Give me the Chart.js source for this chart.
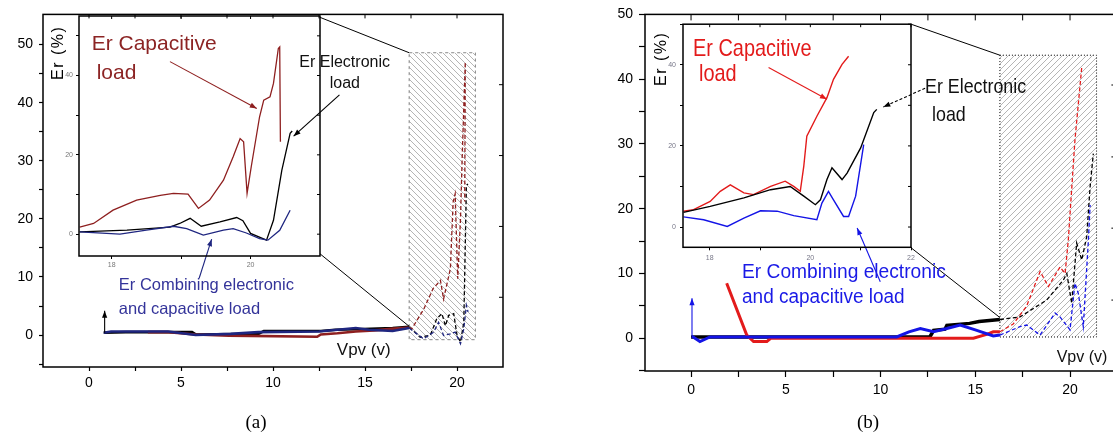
<!DOCTYPE html>
<html lang="en">
<head>
<meta charset="UTF-8">
<title>Er versus Vpv</title>
<script src="https://cdn.jsdelivr.net/npm/chart.js@4.4.1/dist/chart.umd.min.js"></script>
<style>
  html, body { margin: 0; padding: 0; background: #fff; overflow: hidden; }
  #page { position: relative; width: 1113px; height: 439px; overflow: hidden;
          font-family: 'Liberation Sans', Arial, sans-serif; }
  .box { position: absolute; display: block; }
  .lbl { position: absolute; white-space: nowrap; line-height: 1; transform-origin: 0 0; }
</style>
</head>
<body>
<div id="page">
  <canvas id="mainA" class="box" width="560" height="439" style="left:0;top:0"></canvas>
  <div class="box" style="left:560px;top:0;width:553px;height:439px;overflow:hidden">
    <canvas id="mainB" width="580" height="439" style="display:block"></canvas>
  </div>
  <canvas id="insetA" class="box" width="314" height="282" style="left:46px;top:8px"></canvas>
  <canvas id="insetB" class="box" width="285" height="274" style="left:650px;top:16px"></canvas>

  <!-- panel (a) texts -->
  <div class="lbl" style="left:50px;top:80px;font-size:16px;letter-spacing:1.5px;transform:rotate(-90deg)">Er (%)</div>
  <div class="lbl" style="left:91.7px;top:32.2px;font-size:21px;color:#8c2424">Er Capacitive</div>
  <div class="lbl" style="left:96.7px;top:60.5px;font-size:21px;color:#8c2424">load</div>
  <div class="lbl" style="left:299.3px;top:54.2px;font-size:16px;color:#111">Er Electronic</div>
  <div class="lbl" style="left:329.7px;top:75.1px;font-size:16px;color:#111">load</div>
  <div class="lbl" style="left:118.8px;top:275.7px;font-size:16.5px;color:#34349a">Er Combining electronic</div>
  <div class="lbl" style="left:118.8px;top:300px;font-size:16.5px;color:#34349a">and capacitive load</div>
  <div class="lbl" style="left:336.8px;top:341.3px;font-size:17px;color:#111">Vpv (v)</div>
  <div class="lbl" style="left:256px;top:412px;font-size:19px;font-family:'Liberation Serif',serif;transform:translateX(-50%)">(a)</div>

  <!-- panel (b) texts -->
  <div class="lbl" style="left:653px;top:86px;font-size:16px;letter-spacing:1.5px;transform:rotate(-90deg)">Er (%)</div>
  <div class="lbl" style="left:693.3px;top:36.4px;font-size:24px;color:#e31b1b;transform:scaleX(0.83)">Er Capacitive</div>
  <div class="lbl" style="left:699.3px;top:61.4px;font-size:24px;color:#e31b1b;transform:scaleX(0.83)">load</div>
  <div class="lbl" style="left:924.8px;top:75.2px;font-size:21px;color:#111;transform:scaleX(0.85)">Er Electronic</div>
  <div class="lbl" style="left:932px;top:103px;font-size:21px;color:#111;transform:scaleX(0.85)">load</div>
  <div class="lbl" style="left:741.7px;top:261.4px;font-size:20px;color:#1a1ae6;transform:scaleX(0.96)">Er Combining electronic</div>
  <div class="lbl" style="left:741.7px;top:286.4px;font-size:20px;color:#1a1ae6;transform:scaleX(0.95)">and capacitive load</div>
  <div class="lbl" style="left:1056.7px;top:348.5px;font-size:16px;color:#111">Vpv (v)</div>
  <div class="lbl" style="left:868px;top:412px;font-size:19px;font-family:'Liberation Serif',serif;transform:translateX(-50%)">(b)</div>
</div>

<script>
// ---------- panel (a): main plot, [Vpv, Er] ----------
const aCap = [[3.2,0.5],[4.3,0.5],[5.8,0.1],[7.6,-0.1],[12.4,-0.3],[12.6,0.1],[13.5,0.3],[14.5,0.6],[15.5,0.8],[16.6,1.1],[17.4,1.3],
  [17.55,1.1],[18.2,4.5],[18.7,8.0],[19.1,9.4],[19.27,6.2],[19.64,11.4],[19.79,22.9],[19.9,24.3],[20.04,9.7],[20.19,20],[20.28,30.4],[20.45,47],[20.42,23]];
const aElec = [[0.8,0.4],[2.0,0.5],[3.1,0.5],[5.6,0.5],[5.8,0.1],[9.2,0.2],[9.5,0.7],[12.6,0.7],[13.4,0.9],[14.5,1.0],[16.5,1.2],[17.4,1.4],
  [18.0,-0.4],[18.55,0],[18.9,2.8],[19.18,3.7],[19.37,1.6],[19.55,3.4],[19.82,3.7],[20.0,0],[20.19,-1.2],[20.37,2.2],[20.51,25.8],[20.6,26]];
const aComb = [[0.8,0.4],[1.2,0.6],[3.0,0.6],[4.3,0.6],[5.8,0.0],[7.7,0.2],[9.2,0.5],[12.5,0.6],[13.5,0.9],[14.5,1.2],[15.2,0.9],[16.5,0.7],[17.4,1.2],
  [18.18,-0.65],[18.73,0.5],[19.0,2.2],[19.27,-0.07],[19.64,0.2],[19.9,0.5],[20.19,-1.5],[20.37,1.07],[20.51,5.1],[20.6,4]];
// ---------- panel (a): inset (zoom of hatched area) ----------
const aInCap = [[17.54,1.8],[17.74,2.7],[18.02,6.05],[18.36,8.6],[18.7,9.8],[18.89,10.3],[19.1,10.1],[19.25,6.5],[19.41,8.6],[19.61,13.6],[19.75,19.5],
  [19.85,24.1],[19.9,23.3],[19.95,10.3],[20.01,17.0],[20.13,29.6],[20.19,33.8],[20.28,34.6],[20.33,38.0],[20.4,46.8],[20.42,47.2],[20.43,23.3]];
const aInElec = [[17.54,0.6],[18.22,1.0],[18.84,1.8],[18.98,2.7],[19.13,4.0],[19.29,2.0],[19.56,3.1],[19.8,4.2],[19.89,3.4],[20.0,0.2],[20.23,-1.5],
  [20.33,3.5],[20.45,16.1],[20.57,25.4],[20.6,26]];
const aInComb = [[17.54,0.6],[18.12,0],[18.5,1.0],[18.89,2.0],[19.08,1.4],[19.32,-0.25],[19.61,1.0],[19.75,1.4],[19.94,0.3],[20.13,-1.1],[20.25,-1.5],
  [20.42,1.0],[20.57,6.05]];

// ---------- panel (b): main plot ----------
const bCap = [[1.88,8.5],[2.94,0.5],[3.3,-0.5],[4.0,-0.5],[4.2,0],[6.8,0],[9.45,0],[14.9,0],[15.6,0.6],[15.95,1.0],[16.3,1.0],
  [17.0,2.2],[17.7,4.9],[18.42,10.3],[18.86,8.0],[19.47,11.0],[19.74,10.0],[19.91,15.2],[20.26,30.6],[20.62,41.9]];
const bElec = [[0,0.2],[12.6,0.2],[12.8,1.2],[13.4,1.4],[13.5,2.0],[14.7,2.3],[15.2,2.6],[16.3,2.9],
  [17.36,3.3],[18.77,5.9],[19.65,9.0],[19.83,10.0],[20.09,5.4],[20.35,14.7],[20.62,12.1],[20.88,15.7],[21.06,23.4],[21.23,28.5]];
const bComb = [[0.05,0.3],[0.47,-0.5],[1.0,0.2],[10.85,0.2],[11.5,1.0],[12.1,1.5],[12.8,1.0],[13.5,1.5],[14.2,2.05],[15.0,1.3],[15.95,0.35],[16.3,0.5],
  [17.36,1.8],[17.71,2.05],[18.42,0.5],[19.21,3.9],[19.47,3.3],[20.0,1.3],[20.26,8.5],[20.44,6.9],[20.7,1.8],[20.97,15.2],[21.06,20.6]];
// ---------- panel (b): inset ----------
const bInCap = [[17.48,3.9],[17.68,4.3],[18.01,6.3],[18.21,8.8],[18.41,10.4],[18.68,8.4],[18.87,8.0],[19.21,10.0],[19.5,11.3],[19.67,10.0],[19.8,8.8],
  [19.87,15.0],[19.93,22.4],[20.13,27.3],[20.33,31.9],[20.46,36.4],[20.63,40.1],[20.76,42.1]];
const bInElec = [[17.48,3.6],[18.01,5.1],[18.68,7.2],[19.21,9.2],[19.6,10.0],[19.87,7.6],[20.1,5.5],[20.2,6.7],[20.33,11.7],[20.43,14.6],[20.63,11.7],
  [20.73,13.3],[21.0,19.5],[21.26,28.2],[21.32,29.0]];
const bInComb = [[17.48,2.5],[17.88,1.8],[18.35,0.15],[18.68,2.2],[19.01,4.0],[19.34,3.9],[19.67,2.8],[20.13,1.8],[20.23,5.9],[20.36,8.8],[20.46,6.7],
  [20.66,2.6],[20.76,2.6],[20.9,7.6],[21.06,20.3]];

// axis ticks and labels
const aXTicks = [0,2.5,5,7.5,10,12.5,15,17.5,20];
const bXTicks = [0,2.5,5,7.5,10,12.5,15,17.5,20];
const mainXLabels = [0,5,10,15,20];
const mainYTicks = [-5,0,5,10,15,20,25,30,35,40,45,50];
const mainYLabels = [0,10,20,30,40,50];
const aRightTicks = [6.5,18.7,30.9,43.1];
const bRightTicks = [5.9,17.0,28.0,39.1];
const aInXTicks = [18,19,20];
const aInXLabels = [18,20];
const bInXTicks = [18,19,20,21,22];
const bInXLabels = [18,20,22];
const inYTicks = [0,10,20,30,40,50];
const inYLabels = [0,20,40];

// hatched zoom windows, connector lines and arrows (data coordinates)
const aHatch = {x0: 17.4, x1: 21.0, y0: -0.8, y1: 48.6};
const bHatch = {x0: 16.3, x1: 21.4, y0: 0.2, y1: 43.7};
const aLinks = [[[12.55,54.7],[17.4,48.6]], [[12.55,14.0],[17.4,1.5]]];
const bLinks = [[[11.6,48.5],[16.3,43.7]], [[11.6,14.0],[16.3,3.2]]];
const aMainArrow = [[0.85,0.4],[0.85,4.2]];
const bMainArrow = [[0.05,0.3],[0.05,6.2]];
const aInArrows = {cap: [[18.84,43.5],[20.09,31.7]], elec: [[21.28,35.1],[20.62,24.7]], comb: [[19.26,-11.1],[19.44,-1.26]]};
const bInArrows = {cap: [[19.17,39.3],[20.33,31.5]], elec: [[22.28,34.2],[21.45,29.6]], comb: [[21.39,-13.5],[20.93,-0.25]]};

const DARKRED = '#8e1f1f', NAVY = '#1f2680', RED = '#e31b1b', BLUE = '#1414e6', BLACK = '#000';

function hatchPattern(ctx, dir, s) {
  const c = document.createElement('canvas');
  c.width = c.height = s;
  const g = c.getContext('2d');
  g.strokeStyle = '#a2a2a2';
  g.lineWidth = 0.8;
  g.beginPath();
  for (let k = -1; k <= 1; k++) {
    if (dir === 'down') { g.moveTo(k * s, 0); g.lineTo(k * s + s, s); }
    else { g.moveTo(k * s, s); g.lineTo(k * s + s, 0); }
  }
  g.stroke();
  return ctx.createPattern(c, 'repeat');
}

// frame, inward ticks, hatched window and arrow heads
const deco = {
  id: 'deco',
  beforeDatasetsDraw(chart, args, o) {
    if (!o.hatch) return;
    const {ctx, scales: {x, y}} = chart;
    const h = o.hatch;
    const l = x.getPixelForValue(h.x0), r = x.getPixelForValue(h.x1);
    const t = y.getPixelForValue(h.y1), b = y.getPixelForValue(h.y0);
    ctx.save();
    ctx.fillStyle = hatchPattern(ctx, o.hatchDir, 6);
    ctx.fillRect(l, t, r - l, b - t);
    ctx.setLineDash(o.hatchDash);
    ctx.strokeStyle = o.hatchEdge;
    ctx.lineWidth = 1;
    ctx.strokeRect(l, t, r - l, b - t);
    ctx.restore();
  },
  afterDatasetsDraw(chart, args, o) {
    const {ctx, chartArea: a, scales: {x, y}} = chart;
    ctx.save();
    chart.data.datasets.forEach((ds, i) => {
      if (!ds.arrow) return;
      const pts = chart.getDatasetMeta(i).data;
      const p = pts[pts.length - 1], q = pts[pts.length - 2];
      const ang = Math.atan2(p.y - q.y, p.x - q.x);
      const L = 7, W = 2.6;
      ctx.fillStyle = ds.borderColor;
      ctx.beginPath();
      ctx.moveTo(p.x, p.y);
      ctx.lineTo(p.x - L * Math.cos(ang) + W * Math.sin(ang), p.y - L * Math.sin(ang) - W * Math.cos(ang));
      ctx.lineTo(p.x - L * Math.cos(ang) - W * Math.sin(ang), p.y - L * Math.sin(ang) + W * Math.cos(ang));
      ctx.closePath();
      ctx.fill();
    });
    ctx.strokeStyle = '#000';
    ctx.lineWidth = o.frameWidth || 1.5;
    ctx.strokeRect(a.left, a.top, a.width, a.height);
    const len = o.innerTick || 4;
    ctx.lineWidth = 1;
    ctx.beginPath();
    x.ticks.forEach(t => {
      const px = x.getPixelForValue(t.value);
      ctx.moveTo(px, a.top); ctx.lineTo(px, a.top + len);
    });
    (o.rightTicks || y.ticks.map(t => t.value)).forEach(v => {
      const py = y.getPixelForValue(v);
      ctx.moveTo(a.right, py); ctx.lineTo(a.right - len, py);
    });
    ctx.stroke();
    ctx.restore();
  }
};
Chart.register(deco);

const pts = arr => arr.map(([x, y]) => ({x, y}));

function curve(arr, color, width, dashFrom) {
  const ds = {data: pts(arr), borderColor: color, borderWidth: width, pointRadius: 0, fill: false,
              borderJoinStyle: 'miter', borderCapStyle: 'butt'};
  if (dashFrom != null) {
    ds.segment = {
      borderDash: c => c.p0.parsed.x >= dashFrom ? [4, 2.5] : undefined,
      borderWidth: c => c.p0.parsed.x >= dashFrom ? 1.3 : undefined
    };
  }
  return ds;
}
function arrow(arr, color, dash) {
  return {data: pts(arr), borderColor: color, borderWidth: 1.1, pointRadius: 0, fill: false,
          clip: false, arrow: true, borderDash: dash || []};
}
function link(arr) {
  return {data: pts(arr), borderColor: '#000', borderWidth: 1, pointRadius: 0, fill: false, clip: false};
}

function axis(o) {
  return {
    type: 'linear', min: o.min, max: o.max,
    afterFit: s => { if (o.w != null) s.width = o.w; else s.height = o.h; },
    afterBuildTicks: s => { s.ticks = o.ticks.map(v => ({value: v})); },
    border: {display: false},
    grid: {drawOnChartArea: false, drawTicks: true, tickLength: o.tl, tickColor: '#000', tickWidth: o.tw || 1.2},
    ticks: {autoSkip: false, maxRotation: 0, padding: o.pad, color: o.color || '#000',
            font: {family: 'Liberation Sans', size: o.size},
            callback: v => o.labels.includes(v) ? String(v) : ''}
  };
}

function makeChart(id, o) {
  return new Chart(document.getElementById(id), {
    type: 'line',
    data: {datasets: o.datasets},
    options: {
      responsive: false, animation: false, events: [],
      layout: {padding: {top: o.padTop, right: o.padRight, left: 0, bottom: 0}},
      plugins: {legend: {display: false}, tooltip: {enabled: false}, deco: o.deco},
      scales: {x: axis(o.x), y: axis(o.y)}
    }
  });
}

// panel (a) main
makeChart('mainA', {
  padTop: 13, padRight: 57,
  x: {min: -2.5, max: 22.5, ticks: aXTicks, labels: mainXLabels, h: 72, tl: 4, pad: 4, size: 14},
  y: {min: -5.5, max: 55.2, ticks: mainYTicks, labels: mainYLabels, w: 43, tl: 4, pad: 6, size: 14},
  deco: {hatch: aHatch, hatchDir: 'down', hatchDash: [3, 3], hatchEdge: '#888', rightTicks: aRightTicks, innerTick: 4},
  datasets: [
    link(aLinks[0]), link(aLinks[1]),
    arrow(aMainArrow, BLACK),
    curve(aComb, NAVY, 2.6, aHatch.x0),
    curve(aCap, DARKRED, 2.6, aHatch.x0),
    curve(aElec, BLACK, 2.6, aHatch.x0)
  ]
});

// panel (b) main
makeChart('mainB', {
  padTop: 14, padRight: 22.6,
  x: {min: -2.43, max: 22.5, ticks: bXTicks, labels: mainXLabels, h: 68, tl: 6, pad: 5, size: 14},
  y: {min: -5.05, max: 50, ticks: mainYTicks, labels: mainYLabels, w: 85, tl: 6, pad: 6, size: 14},
  deco: {hatch: bHatch, hatchDir: 'up', hatchDash: [1, 2], hatchEdge: '#000', rightTicks: bRightTicks, innerTick: 6},
  datasets: [
    link(bLinks[0]), link(bLinks[1]),
    arrow(bMainArrow, BLUE),
    curve(bComb, BLUE, 3, bHatch.x0),
    curve(bCap, RED, 3, bHatch.x0),
    curve(bElec, BLACK, 3.5, bHatch.x0)
  ]
});

// panel (a) inset
makeChart('insetA', {
  padTop: 8, padRight: 40,
  x: {min: 17.53, max: 21.0, ticks: aInXTicks, labels: aInXLabels, h: 34, tl: 3, pad: 2, size: 7, color: '#777', tw: 1},
  y: {min: -5.5, max: 55, ticks: inYTicks, labels: inYLabels, w: 33, tl: 3, pad: 3, size: 7, color: '#777', tw: 1},
  deco: {innerTick: 3, frameWidth: 1.5},
  datasets: [
    arrow(aInArrows.cap, DARKRED), arrow(aInArrows.elec, BLACK), arrow(aInArrows.comb, NAVY),
    curve(aInComb, NAVY, 1.3),
    curve(aInElec, BLACK, 1.3),
    curve(aInCap, DARKRED, 1.3)
  ]
});

// panel (b) inset
makeChart('insetB', {
  padTop: 8, padRight: 24,
  x: {min: 17.47, max: 22.0, ticks: bInXTicks, labels: bInXLabels, h: 42.7, tl: 3, pad: 3.6, size: 7, color: '#778', tw: 1},
  y: {min: -5, max: 50, ticks: inYTicks, labels: inYLabels, w: 33, tl: 3, pad: 4, size: 7, color: '#778', tw: 1},
  deco: {innerTick: 3, frameWidth: 1.5},
  datasets: [
    arrow(bInArrows.cap, RED), arrow(bInArrows.elec, BLACK, [3, 2]), arrow(bInArrows.comb, BLUE),
    curve(bInComb, BLUE, 1.4),
    curve(bInElec, BLACK, 1.4),
    curve(bInCap, RED, 1.4)
  ]
});
</script>
</body>
</html>
